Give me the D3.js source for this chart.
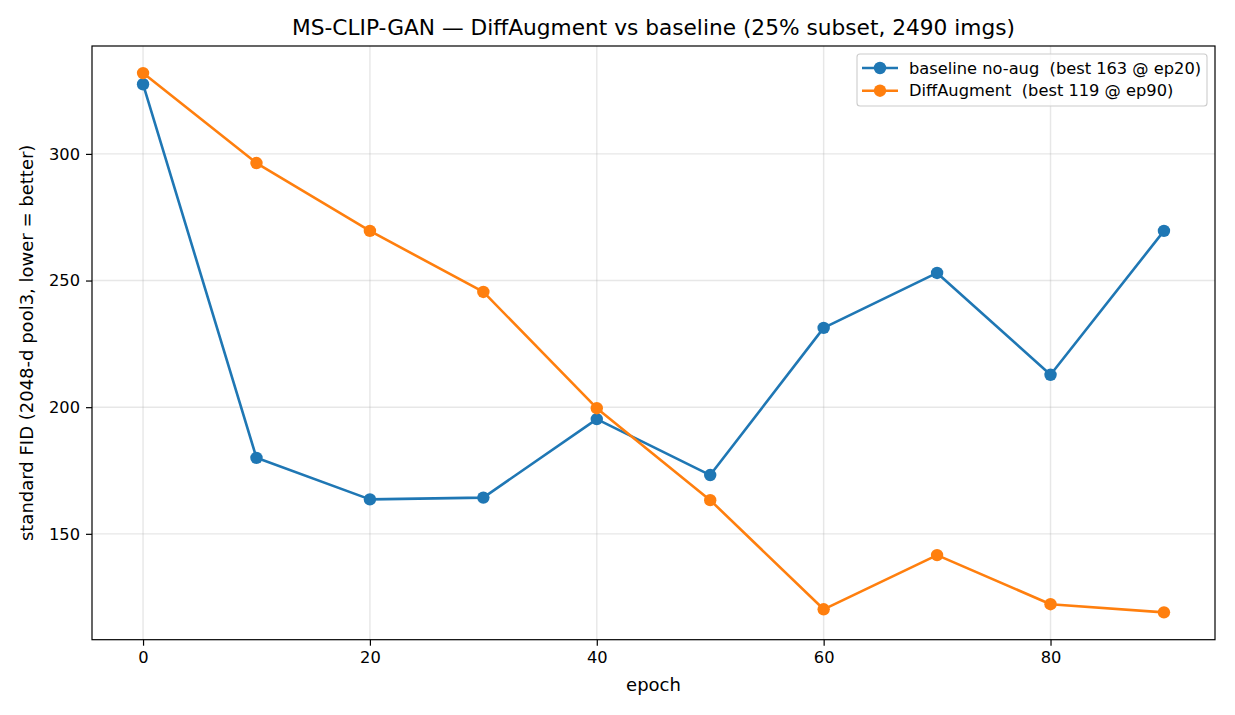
<!DOCTYPE html>
<html>
<head>
<meta charset="utf-8">
<script src="https://cdn.jsdelivr.net/npm/d3@7"></script>
<style>
  body { margin: 0; background: #fff; }
  text { font-family: "DejaVu Sans", sans-serif; fill: #000; white-space: pre; }
</style>
</head>
<body>
<div id="chart"></div>
<script>
// data
var epochs = [0, 10, 20, 30, 40, 50, 60, 70, 80, 90];
var baseline = [327.5, 180.0, 163.6, 164.3, 195.3, 173.2, 231.3, 253.0, 212.8, 269.6];
var diffaug = [331.9, 296.4, 269.6, 245.5, 199.6, 163.3, 120.2, 141.6, 122.2, 119.0];
var xTicks = [0, 20, 40, 60, 80];
var yTicks = [150, 200, 250, 300];
var seriesNames = ["baseline no-aug  (best 163 @ ep20)", "DiffAugment  (best 119 @ ep90)"];
var colors = ["#1f77b4", "#ff7f0e"];

var W = 1235, H = 715;
var margin = {top: 46, right: 20, bottom: 76, left: 92};
var width = 1215 - margin.left,
    height = 639.7 - margin.top;

var svg = d3.select("#chart").append("svg")
    .attr("width", W)
    .attr("height", H);

var g = svg.append("g")
    .attr("transform", "translate(" + margin.left + "," + margin.top + ")");

var x = d3.scaleLinear().domain([-4.5, 94.5]).range([0, width]);
var y = d3.scaleLinear().domain([108.2, 342.6]).range([height, 0]);

// grid
g.append("g").selectAll("line").data(xTicks).enter().append("line")
    .attr("x1", function(d) { return x(d); }).attr("x2", function(d) { return x(d); })
    .attr("y1", 0).attr("y2", height)
    .style("stroke", "#b0b0b0").style("stroke-opacity", 0.3).style("stroke-width", 1.4);
g.append("g").selectAll("line").data(yTicks).enter().append("line")
    .attr("y1", function(d) { return y(d); }).attr("y2", function(d) { return y(d); })
    .attr("x1", 0).attr("x2", width)
    .style("stroke", "#b0b0b0").style("stroke-opacity", 0.3).style("stroke-width", 1.4);

// axes
var xAxis = g.append("g")
    .attr("transform", "translate(0," + height + ")")
    .call(d3.axisBottom(x).tickValues(xTicks).tickSize(6).tickPadding(6).tickSizeOuter(0));
var yAxis = g.append("g")
    .call(d3.axisLeft(y).tickValues(yTicks).tickSize(6).tickPadding(6).tickSizeOuter(0));
[xAxis, yAxis].forEach(function(a) {
  a.select(".domain").remove();
  a.selectAll("line").style("stroke", "#000").style("stroke-width", 1.2);
  a.selectAll("text").style("font-size", "16.25px").style("font-family", "DejaVu Sans");
});

// frame
g.append("rect")
    .attr("width", width).attr("height", height)
    .style("fill", "none").style("stroke", "#000").style("stroke-width", 1.2);

// lines
var line = d3.line()
    .x(function(d, i) { return x(epochs[i]); })
    .y(function(d) { return y(d); });

[baseline, diffaug].forEach(function(s, k) {
  g.append("path").datum(s)
    .attr("d", line)
    .style("fill", "none")
    .style("stroke", colors[k])
    .style("stroke-width", 2.6)
    .style("stroke-linejoin", "round");
  g.append("g").selectAll("circle").data(s).enter().append("circle")
    .attr("cx", function(d, i) { return x(epochs[i]); })
    .attr("cy", function(d) { return y(d); })
    .attr("r", 6.2)
    .style("fill", colors[k]);
});

// title and labels
svg.append("text")
    .attr("x", margin.left + width / 2).attr("y", 35)
    .style("text-anchor", "middle")
    .style("font-size", "21.7px")
    .text("MS-CLIP-GAN \u2014 DiffAugment vs baseline (25% subset, 2490 imgs)");

svg.append("text")
    .attr("x", margin.left + width / 2).attr("y", 691)
    .style("text-anchor", "middle")
    .style("font-size", "18px")
    .text("epoch");

svg.append("text")
    .attr("transform", "translate(33," + (margin.top + height / 2) + ") rotate(-90)")
    .style("text-anchor", "middle")
    .style("font-size", "18px")
    .text("standard FID (2048-d pool3, lower = better)");

// legend
var leg = svg.append("g");
leg.append("rect")
    .attr("x", 857).attr("y", 54)
    .attr("width", 350).attr("height", 52)
    .attr("rx", 3)
    .style("fill", "#fff").style("fill-opacity", 0.8)
    .style("stroke", "#cccccc").style("stroke-width", 1.1);
seriesNames.forEach(function(name, k) {
  var cy = 68 + k * 22.7;
  leg.append("line")
    .attr("x1", 862).attr("x2", 898).attr("y1", cy).attr("y2", cy)
    .style("stroke", colors[k]).style("stroke-width", 2.6);
  leg.append("circle")
    .attr("cx", 880).attr("cy", cy).attr("r", 6.2)
    .style("fill", colors[k]);
  leg.append("text")
    .attr("x", 909).attr("y", cy + 5.5)
    .attr("xml:space", "preserve")
    .style("font-size", "16.25px")
    .text(name);
});
</script>
</body>
</html>
